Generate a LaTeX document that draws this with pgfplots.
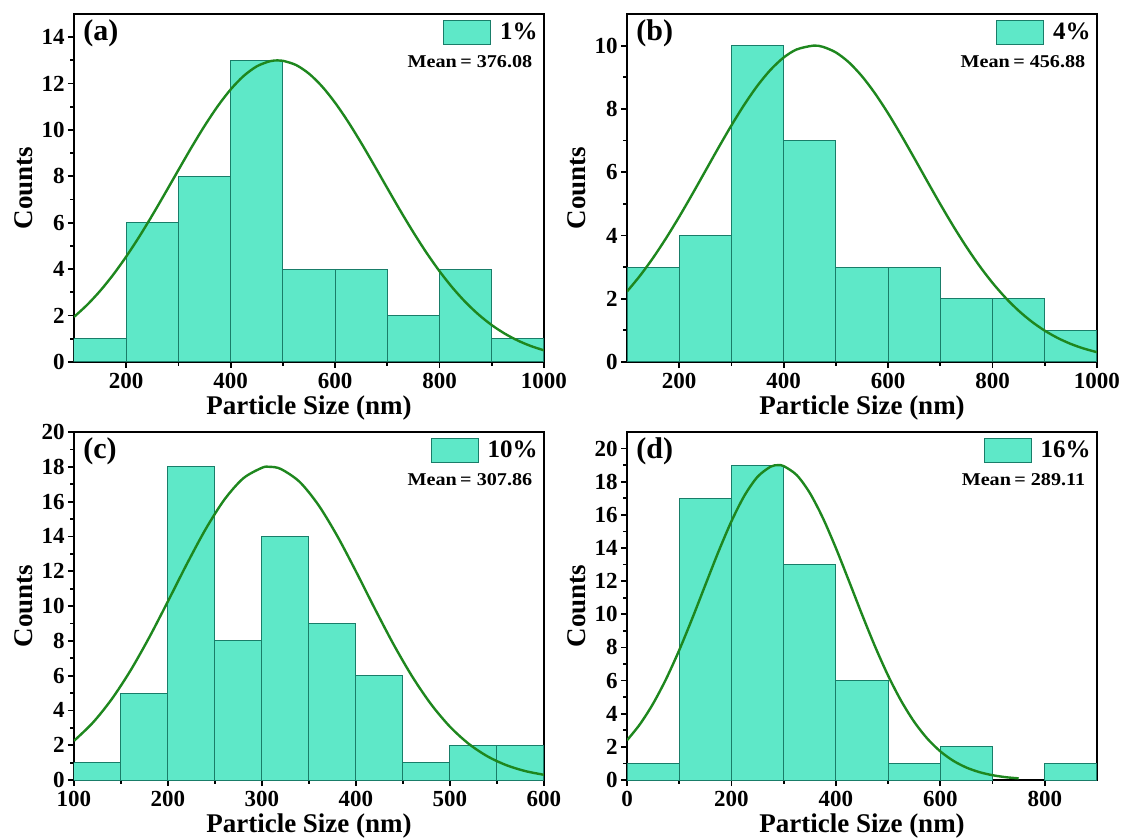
\documentclass[border=0pt]{standalone}
\usepackage{fontspec}
\setmainfont{Liberation Serif}
\usepackage{graphicx}
\usepackage{pgfplots}
\pgfplotsset{compat=1.18}
\definecolor{barfill}{RGB}{94,232,200}
\definecolor{baredge}{RGB}{25,125,105}
\definecolor{fitgreen}{RGB}{30,135,30}
\newcommand{\meanlab}[1]{\scalebox{1.12}[1]{Mean\,= #1}}
\tikzset{
 tag/.style={anchor=west, font=\bfseries\fontsize{15}{16}\selectfont},
 meanstyle/.style={anchor=east, font=\bfseries\fontsize{9}{10}\selectfont},
}
\pgfplotsset{
 hist/.style={
  scale only axis, width=235pt, height=174pt,
  axis line style={line width=1.25pt},
  tick pos=left, tick align=outside,
  major tick length=3pt, minor tick length=1.8pt,
  every tick/.style={black, line width=0.9pt},
  minor x tick num=1, minor y tick num=1,
  ymin=0,
  /pgf/number format/assume math mode=true,
  /pgf/number format/1000 sep={},
  tick label style={font=\bfseries\fontsize{11.5}{12}\selectfont},
  yticklabel style={inner xsep=1.5pt, inner ysep=0pt},
  xticklabel style={inner ysep=2.5pt},
  label style={font=\bfseries\fontsize{13.5}{15}\selectfont},
  xlabel={Particle Size (nm)}, ylabel={Counts},
  xlabel style={at={(axis description cs:0.5,-0.132)}, anchor=center},
  ylabel style={at={(axis description cs:-0.106,0.5)}, anchor=center},
  legend style={at={(axis description cs:1,1)}, xshift=0pt, yshift=-1pt, anchor=north east, draw=none, fill=none, font=\bfseries\fontsize{12.5}{13}\selectfont, inner sep=1pt},
 },
 bars/.style={ybar, bar width=#1, bar shift=0pt, fill=barfill, draw=baredge, line width=0.5pt,
  legend image code/.code={\draw[fill=barfill, draw=baredge, line width=0.4pt] (0pt,-6pt) rectangle (23.5pt,6pt); \path (26pt,0pt);}},
 fit/.style={smooth, no marks, color=fitgreen, line width=1.2pt, forget plot},
}
\begin{document}
\begin{tikzpicture}
\useasboundingbox (0,0) rectangle (560.5pt,-420pt);
% (a)
\begin{axis}[hist, at={(37pt,-7pt)}, anchor=north west,
  xmin=100, xmax=1000, xtick={200,400,...,1000},
  ymax=15, ytick={0,2,...,14}]
\addplot[bars=100] coordinates {(150,1) (250,6) (350,8) (450,13) (550,4) (650,4) (750,2) (850,4) (950,1)};
\addlegendentry{1\%}
\addplot[fit] coordinates {(100,1.942) (125,2.459) (150,3.064) (175,3.761) (200,4.544) (225,5.404) (250,6.328) (275,7.294) (300,8.278) (325,9.251) (350,10.175) (375,11.019) (400,11.748) (425,12.332) (450,12.743) (475,12.964) (490,13) (500,12.984) (525,12.803) (550,12.428) (575,11.878) (600,11.175) (625,10.352) (650,9.440) (675,8.476) (700,7.492) (725,6.518) (750,5.585) (775,4.710) (800,3.911) (825,3.197) (850,2.573) (875,2.039) (900,1.590) (925,1.221) (950,0.923) (975,0.687) (1000,0.503)};
\node[meanstyle] at (axis description cs:0.99,0.864) {\meanlab{376.08}};
\node[tag] at (axis description cs:0.005,0.945) {(a)};
\end{axis}
% (b)
\begin{axis}[hist, at={(313.5pt,-7pt)}, anchor=north west,
  xmin=100, xmax=1000, xtick={200,400,...,1000},
  ymax=11, ytick={0,2,...,10}]
\addplot[bars=100] coordinates {(150,3) (250,4) (350,10) (450,7) (550,3) (650,3) (750,2) (850,2) (950,1)};
\addlegendentry{4\%}
\addplot[fit] coordinates {(100,2.228) (125,2.729) (150,3.294) (175,3.918) (200,4.592) (225,5.304) (250,6.036) (275,6.769) (300,7.480) (325,8.144) (350,8.738) (375,9.238) (400,9.624) (425,9.880) (457,10) (475,9.962) (500,9.785) (525,9.470) (550,9.031) (575,8.487) (600,7.859) (625,7.171) (650,6.448) (675,5.712) (700,4.987) (725,4.290) (750,3.637) (775,3.038) (800,2.500) (825,2.028) (850,1.621) (875,1.276) (900,0.990) (925,0.757) (950,0.570) (975,0.424) (1000,0.310)};
\node[meanstyle] at (axis description cs:0.99,0.864) {\meanlab{456.88}};
\node[tag] at (axis description cs:0.005,0.945) {(b)};
\end{axis}
% (c)
\begin{axis}[hist, at={(37pt,-216pt)}, anchor=north west,
  xmin=100, xmax=600, xtick={100,200,...,600},
  ymax=20, ytick={0,2,...,20}]
\addplot[bars=50] coordinates {(125,1) (175,5) (225,18) (275,8) (325,14) (375,9) (425,6) (475,1) (525,2) (575,2)};
\addlegendentry{10\%}
\addplot[fit] coordinates {(100,2.250) (120,3.292) (140,4.637) (160,6.282) (180,8.190) (200,10.276) (220,12.407) (240,14.413) (260,16.114) (280,17.334) (300,17.945) (308,18) (320,17.876) (340,17.136) (360,15.806) (380,14.031) (400,11.985) (420,9.851) (440,7.791) (460,5.931) (480,4.344) (500,3.061) (520,2.076) (540,1.355) (560,0.851) (580,0.514) (600,0.299)};
\node[meanstyle] at (axis description cs:0.99,0.864) {\meanlab{307.86}};
\node[tag] at (axis description cs:0.005,0.945) {(c)};
\end{axis}
% (d)
\begin{axis}[hist, at={(313.5pt,-216pt)}, anchor=north west,
  xmin=0, xmax=900, xtick={0,200,...,800},
  ymax=21, ytick={0,2,...,20}]
\addplot[bars=100] coordinates {(50,1) (150,17) (250,19) (350,13) (450,6) (550,1) (650,2) (850,1)};
\addlegendentry{16\%}
\addplot[fit] coordinates {(0,2.395) (25,3.375) (50,4.609) (75,6.103) (100,7.836) (125,9.753) (150,11.769) (175,13.766) (200,15.612) (225,17.165) (250,18.297) (275,18.908) (289,19) (300,18.943) (325,18.400) (350,17.325) (375,15.816) (400,13.997) (425,12.010) (450,9.990) (475,8.058) (500,6.300) (525,4.775) (550,3.509) (575,2.500) (600,1.727) (625,1.156) (650,0.750) (675,0.473) (700,0.289) (725,0.170) (750,0.098)};
\node[meanstyle] at (axis description cs:0.99,0.864) {\meanlab{289.11}};
\node[tag] at (axis description cs:0.005,0.945) {(d)};
\end{axis}
\end{tikzpicture}
\end{document}
